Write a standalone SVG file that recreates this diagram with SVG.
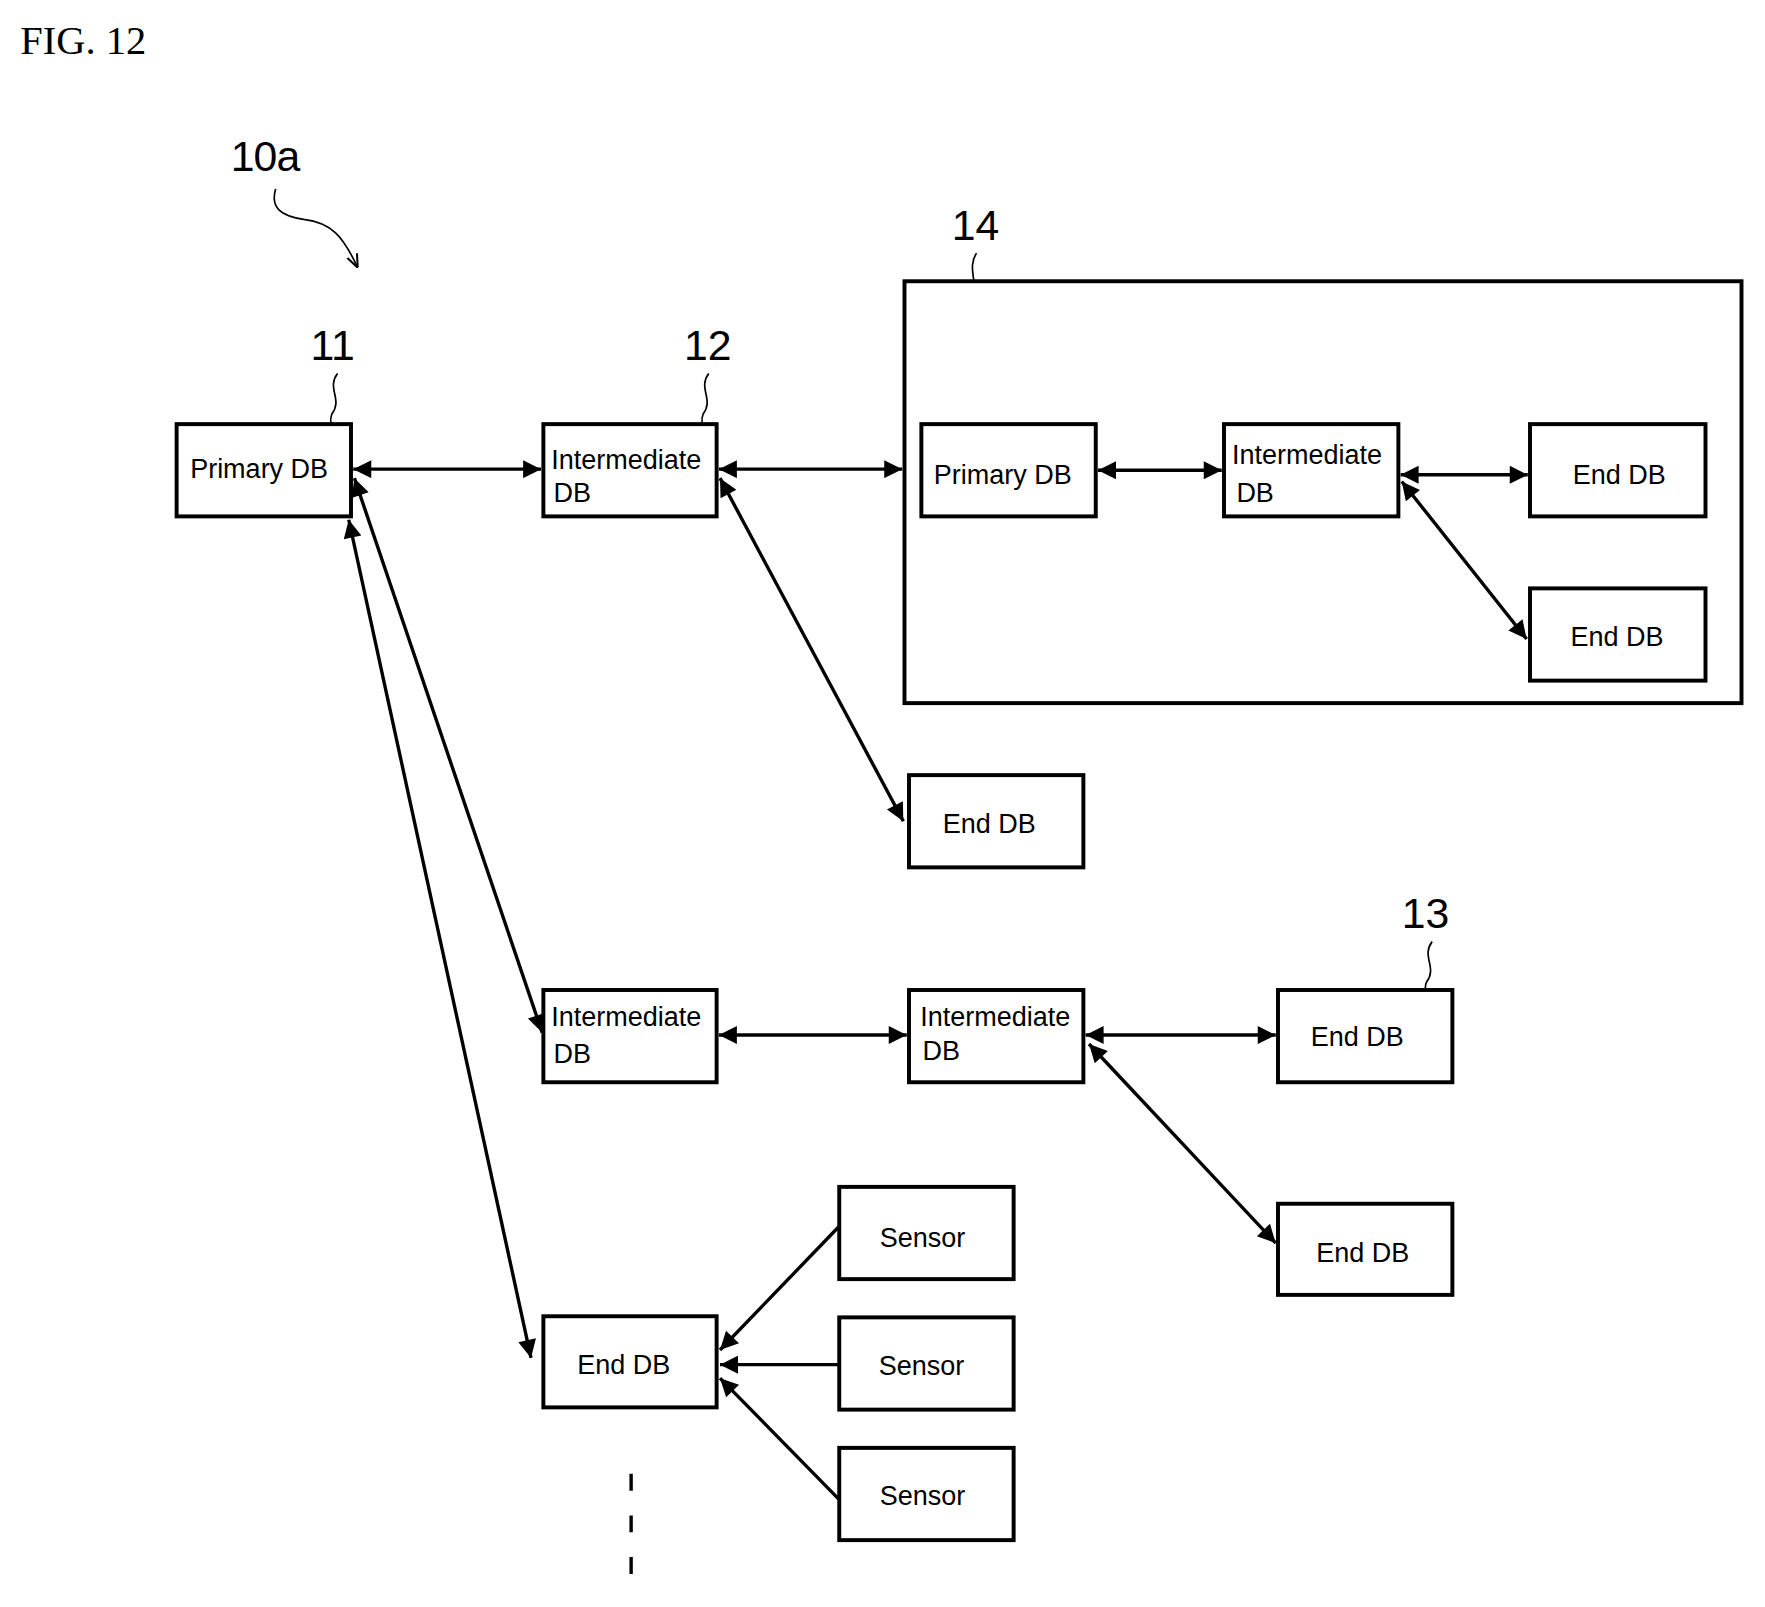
<svg xmlns="http://www.w3.org/2000/svg" width="1765" height="1607" viewBox="0 0 1765 1607">
<style>
.b{fill:#fff;stroke:#000;stroke-width:3.5}
.t{font-family:"Liberation Sans",Arial,sans-serif;font-size:24px;fill:#000}
.n{font-family:"Liberation Sans",Arial,sans-serif;font-size:38px;fill:#000}
.c{stroke:#000;stroke-width:3;fill:none}
.l{stroke:#000;stroke-width:1.5;fill:none}
</style>
<defs>
<marker id="a" viewBox="0 0 10 10" refX="10" refY="5" markerWidth="22" markerHeight="16" markerUnits="userSpaceOnUse" orient="auto-start-reverse"><path d="M0,0L10,5L0,10z" fill="#000"/></marker>
<marker id="s" viewBox="0 0 10 10" refX="10" refY="5" markerWidth="12" markerHeight="12" markerUnits="userSpaceOnUse" orient="auto"><path d="M0,1L10,5L0,9" fill="none" stroke="#000" stroke-width="1.5"/></marker>
</defs>
<rect width="1765" height="1607" fill="#fff"/>
<g transform="scale(1.125)">
<text x="18" y="48" font-family="Liberation Serif,serif" font-size="36">FIG. 12</text>
<g id="labels">
<text class="n" x="205" y="152" textLength="62">10a</text>
<path class="l" d="M245,168 C240,185 250,192 270,195 C295,198 305,210 318,238" marker-end="url(#s)"/>
<text class="n" x="276" y="320">11</text><path class="l" d="M300,332 C290,345 305,355 295,368 C292,375 296,382 298,388"/>
<text class="n" x="608" y="320">12</text><path class="l" d="M630,332 C620,345 635,355 625,368 C622,375 626,382 628,388"/>
<text class="n" x="846" y="213">14</text><path class="l" d="M868,225 C858,240 873,255 862,272 C860,278 864,282 866,286"/>
<text class="n" x="938" y="320" textLength="62">14a</text><path class="l" d="M963,332 C953,345 968,355 958,368 C955,375 959,382 961,390"/>
<text class="n" x="1214" y="320" textLength="62">14b</text><path class="l" d="M1236,332 C1226,345 1241,355 1231,368 C1228,375 1232,382 1234,390"/>
<text class="n" x="1467" y="320" textLength="62">14c</text><path class="l" d="M1492,332 C1502,345 1487,355 1490,368 C1488,375 1494,382 1498,388"/>
<text class="n" x="1246" y="825">13</text><path class="l" d="M1273,837 C1263,850 1278,860 1268,873 C1265,880 1269,888 1272,895"/>
</g>
<g id="n14"><rect class="b" x="804" y="250" width="744" height="375"/></g>
<g id="n11"><rect class="b" x="157" y="377" width="155" height="82"/><text class="t" x="169" y="425">Primary DB</text></g>
<g id="n12"><rect class="b" x="483" y="377" width="154" height="82"/><text class="t" x="490" y="417">Intermediate</text><text class="t" x="492" y="446">DB</text></g>
<g id="n14a"><rect class="b" x="819" y="377" width="155" height="82"/><text class="t" x="830" y="430">Primary DB</text></g>
<g id="n14b"><rect class="b" x="1088" y="377" width="155" height="82"/><text class="t" x="1095" y="412">Intermediate</text><text class="t" x="1099" y="446">DB</text></g>
<g id="n14c"><rect class="b" x="1360" y="377" width="156" height="82"/><text class="t" x="1398" y="430">End DB</text></g>
<g id="n14d"><rect class="b" x="1360" y="523" width="156" height="82"/><text class="t" x="1396" y="574">End DB</text></g>
<g id="e1"><rect class="b" x="808" y="689" width="155" height="82"/><text class="t" x="838" y="740">End DB</text></g>
<g id="i1"><rect class="b" x="483" y="880" width="154" height="82"/><text class="t" x="490" y="912">Intermediate</text><text class="t" x="492" y="945">DB</text></g>
<g id="i2"><rect class="b" x="808" y="880" width="155" height="82"/><text class="t" x="818" y="912">Intermediate</text><text class="t" x="820" y="942">DB</text></g>
<g id="n13"><rect class="b" x="1136" y="880" width="155" height="82"/><text class="t" x="1165" y="930">End DB</text></g>
<g id="e2"><rect class="b" x="1136" y="1070" width="155" height="81"/><text class="t" x="1170" y="1122">End DB</text></g>
<g id="e3"><rect class="b" x="483" y="1170" width="154" height="81"/><text class="t" x="513" y="1221">End DB</text></g>
<g id="s1"><rect class="b" x="746" y="1055" width="155" height="82"/><text class="t" x="782" y="1108">Sensor</text></g>
<g id="s2"><rect class="b" x="746" y="1171" width="155" height="82"/><text class="t" x="781" y="1222">Sensor</text></g>
<g id="s3"><rect class="b" x="746" y="1287" width="155" height="82"/><text class="t" x="782" y="1338">Sensor</text></g>
<g id="connectors">
<line class="c" x1="314" y1="417" x2="481" y2="417" marker-start="url(#a)" marker-end="url(#a)"/>
<line class="c" x1="639" y1="417" x2="802" y2="417" marker-start="url(#a)" marker-end="url(#a)"/>
<line class="c" x1="976" y1="418" x2="1086" y2="418" marker-start="url(#a)" marker-end="url(#a)"/>
<line class="c" x1="1245" y1="422" x2="1358" y2="422" marker-start="url(#a)" marker-end="url(#a)"/>
<line class="c" x1="1246" y1="428" x2="1357" y2="568" marker-start="url(#a)" marker-end="url(#a)"/>
<line class="c" x1="640" y1="425" x2="803" y2="730" marker-start="url(#a)" marker-end="url(#a)"/>
<line class="c" x1="315" y1="425" x2="482" y2="918" marker-start="url(#a)" marker-end="url(#a)"/>
<line class="c" x1="310" y1="462" x2="472" y2="1207" marker-start="url(#a)" marker-end="url(#a)"/>
<line class="c" x1="639" y1="920" x2="806" y2="920" marker-start="url(#a)" marker-end="url(#a)"/>
<line class="c" x1="965" y1="920" x2="1134" y2="920" marker-start="url(#a)" marker-end="url(#a)"/>
<line class="c" x1="968" y1="928" x2="1134" y2="1105" marker-start="url(#a)" marker-end="url(#a)"/>
<line class="c" x1="746" y1="1090" x2="640" y2="1200" marker-end="url(#a)"/>
<line class="c" x1="746" y1="1213" x2="640" y2="1213" marker-end="url(#a)"/>
<line class="c" x1="746" y1="1333" x2="640" y2="1225" marker-end="url(#a)"/>
<line class="c" x1="561" y1="1310" x2="561" y2="1410" stroke-dasharray="15,22"/>
</g>
</g>
</svg>
